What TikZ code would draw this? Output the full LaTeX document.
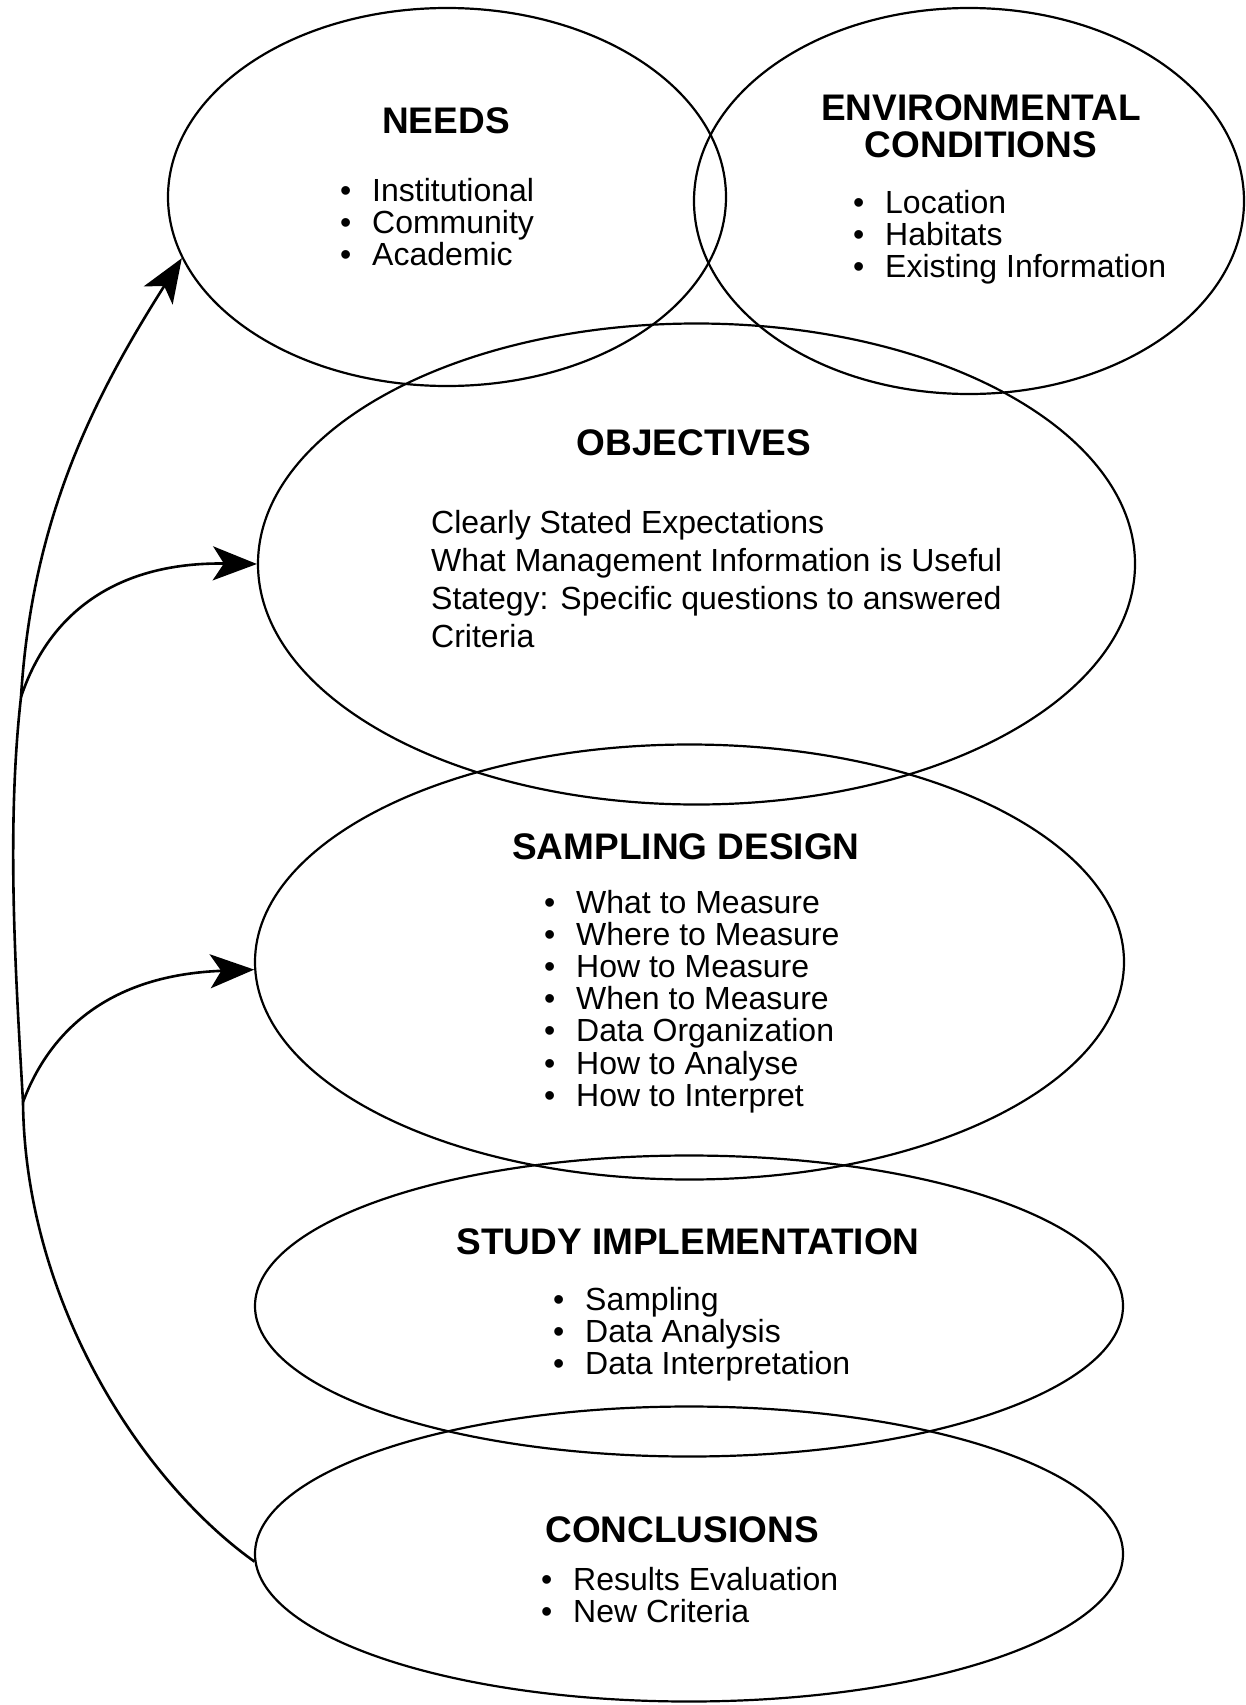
\documentclass[tikz,border=0pt]{standalone}
\usepackage{fontspec}
\setmainfont{Liberation Sans}
\usetikzlibrary{arrows.meta,shapes.geometric}
\newcommand\itembul{\makebox[32pt][l]{•}}
\begin{document}
\begin{tikzpicture}[x=1pt,y=-1pt,
  ell/.style={draw, ellipse, line width=2.2pt, inner sep=0pt},
  title/.style={font=\fontsize{37}{37}\selectfont\bfseries, inner sep=0pt, anchor=base},
  item/.style={font=\fontsize{32}{32}\selectfont, inner sep=0pt, anchor=base west},
  conn/.style={line width=2.6pt, -{Stealth[length=44pt,width=34pt,inset=11pt]}}]
\useasboundingbox (0,0) rectangle (1246,1705);
% ellipses
\node[ell, minimum width=558pt, minimum height=378pt] (needs) at (447,197) {};
\node[ell, minimum width=550pt, minimum height=386pt] (env) at (969,201) {};
\node[ell, minimum width=877pt, minimum height=481pt] (obj) at (696.5,564) {};
\node[ell, minimum width=869pt, minimum height=435pt] (sd) at (689.5,962) {};
\node[ell, minimum width=868pt, minimum height=301pt] (impl) at (689,1306) {};
\node[ell, minimum width=868pt, minimum height=295pt] (conc) at (689,1554) {};
% titles
\node[title] (needsT) at (446,133) {NEEDS};
\node[title] (envT1) at (981,120) {ENVIRONMENTAL};
\node[title] (envT2) at (981,157) {CONDITIONS};
\node[title] (objT) at (694,455) {OBJECTIVES};
\node[title] (sdT) at (686,859) {SAMPLING DESIGN};
\node[title] (implT) at (688,1254) {STUDY IMPLEMENTATION};
\node[title] (concT) at (682,1542) {CONCLUSIONS};
% lists
\foreach \t [count=\i] in {Institutional, Community, Academic}
  \node[item] (needs\i) at (340, {201+32*(\i-1)}) {\itembul\t};
\foreach \t [count=\i] in {Location, Habitats, Existing Information}
  \node[item] (env\i) at (853, {213+32*(\i-1)}) {\itembul\t};
\foreach \t [count=\i] in {Clearly Stated Expectations, What Management Information is Useful, {Stategy: Specific questions to answered}, Criteria}
  \node[item] (obj\i) at (431, {533+38*(\i-1)}) {\t};
\foreach \t [count=\i] in {What to Measure, Where to Measure, How to Measure, When to Measure, Data Organization, How to Analyse, How to Interpret}
  \node[item] (sd\i) at (544, {913+32.2*(\i-1)}) {\itembul\t};
\foreach \t [count=\i] in {Sampling, Data Analysis, Data Interpretation}
  \node[item] (impl\i) at (553, {1310+32*(\i-1)}) {\itembul\t};
\foreach \t [count=\i] in {Results Evaluation, New Criteria}
  \node[item] (conc\i) at (541, {1590+32*(\i-1)}) {\itembul\t};
% connectors
\coordinate (b1) at (21,697);
\coordinate (b2) at (23,1102);
\draw[conn] (conc.181) .. controls (140,1480) and (25,1300) .. (b2)
  .. controls (16,980) and (6,830) .. (b1)
  .. controls (32,520) and (92,400) .. (needs.193);
\draw[conn] (b1) .. controls (50,610) and (120,562) .. (obj.west);
\draw[conn] (b2) .. controls (50,1030) and (110,975) .. (sd.181);
\end{tikzpicture}
\end{document}
